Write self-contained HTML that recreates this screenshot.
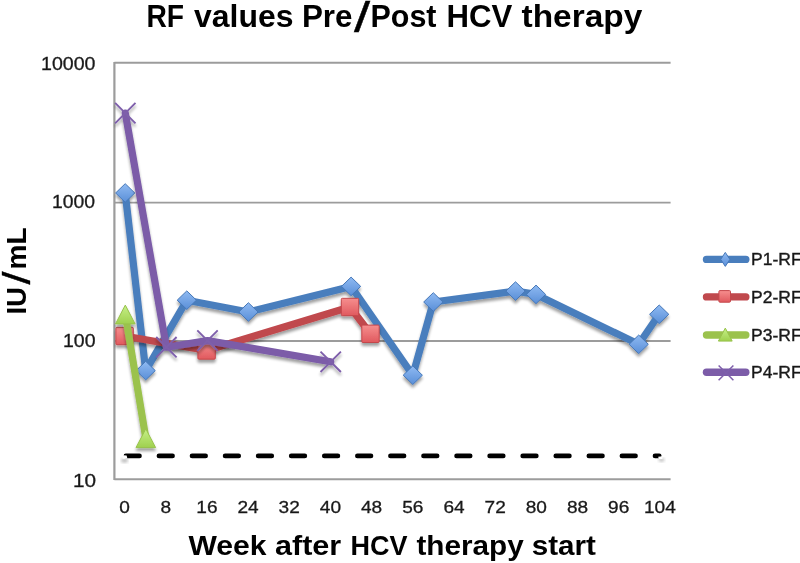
<!DOCTYPE html>
<html><head><meta charset="utf-8"><title>RF values Pre/Post HCV therapy</title>
<style>
html,body{margin:0;padding:0;background:#fff;}
body{width:800px;height:563px;overflow:hidden;font-family:"Liberation Sans",sans-serif;}
svg{display:block;}
text{font-family:"Liberation Sans",sans-serif;fill:#1a1a1a;stroke:#1a1a1a;stroke-width:0.3px;}
.b{font-weight:bold;fill:#000;stroke:none;}
.s{fill:#000;stroke:#000;stroke-width:0.35px;}
</style></head><body>
<svg width="800" height="563" viewBox="0 0 800 563">
<defs>
<linearGradient id="gb" x1="0" y1="0" x2="0" y2="1"><stop offset="0" stop-color="#8fbaf2"/><stop offset="1" stop-color="#5a8fd8"/></linearGradient>
<linearGradient id="gr" x1="0" y1="0" x2="0" y2="1"><stop offset="0" stop-color="#f68e8e"/><stop offset="1" stop-color="#e0595e"/></linearGradient>
<linearGradient id="gg" x1="0" y1="0" x2="0" y2="1"><stop offset="0" stop-color="#c6f088"/><stop offset="1" stop-color="#9fd04e"/></linearGradient>
<filter id="sh" x="-30%" y="-30%" width="160%" height="180%"><feGaussianBlur in="SourceAlpha" stdDeviation="1.6"/><feOffset dx="0" dy="2.5" result="o"/><feComponentTransfer><feFuncA type="linear" slope="0.38"/></feComponentTransfer><feMerge><feMergeNode/><feMergeNode in="SourceGraphic"/></feMerge></filter>
<filter id="soft"><feGaussianBlur stdDeviation="0.55"/></filter>
<filter id="b2"><feGaussianBlur stdDeviation="1.4"/></filter>
</defs>
<rect width="800" height="563" fill="#fff"/>
<g filter="url(#soft)">

<line x1="114.4" y1="62.8" x2="670.6" y2="62.8" stroke="#9c9c9c" stroke-width="1.9"/>
<line x1="114.4" y1="202.6" x2="670.6" y2="202.6" stroke="#9c9c9c" stroke-width="1.9"/>
<line x1="114.4" y1="341.0" x2="670.6" y2="341.0" stroke="#9c9c9c" stroke-width="1.9"/>
<line x1="114.4" y1="479.2" x2="670.6" y2="479.2" stroke="#9c9c9c" stroke-width="1.9"/>
<line x1="114.4" y1="61.9" x2="114.4" y2="480.09999999999997" stroke="#9c9c9c" stroke-width="2.2"/>
<g filter="url(#sh)">
<polyline points="125.2,193.0 145.7,370.6 186.8,300.2 248.4,312.0 351.1,286.4 412.8,375.2 433.3,302.0 515.5,291.1 536.0,294.4 638.7,344.3 659.2,314.3" fill="none" stroke="#4a7ebd" stroke-width="7.2" stroke-linejoin="round" stroke-linecap="round"/>
<path d="M125.2 183.7L134.8 193.0L125.2 202.3L115.6 193.0Z" fill="url(#gb)" stroke="#4577b8" stroke-width="1"/>
<path d="M145.7 361.3L155.3 370.6L145.7 379.9L136.1 370.6Z" fill="url(#gb)" stroke="#4577b8" stroke-width="1"/>
<path d="M186.8 290.9L196.4 300.2L186.8 309.5L177.2 300.2Z" fill="url(#gb)" stroke="#4577b8" stroke-width="1"/>
<path d="M248.4 302.7L258.0 312.0L248.4 321.3L238.8 312.0Z" fill="url(#gb)" stroke="#4577b8" stroke-width="1"/>
<path d="M351.1 277.1L360.7 286.4L351.1 295.7L341.5 286.4Z" fill="url(#gb)" stroke="#4577b8" stroke-width="1"/>
<path d="M412.8 365.9L422.4 375.2L412.8 384.5L403.2 375.2Z" fill="url(#gb)" stroke="#4577b8" stroke-width="1"/>
<path d="M433.3 292.7L442.9 302.0L433.3 311.3L423.7 302.0Z" fill="url(#gb)" stroke="#4577b8" stroke-width="1"/>
<path d="M515.5 281.8L525.1 291.1L515.5 300.4L505.9 291.1Z" fill="url(#gb)" stroke="#4577b8" stroke-width="1"/>
<path d="M536.0 285.1L545.6 294.4L536.0 303.7L526.4 294.4Z" fill="url(#gb)" stroke="#4577b8" stroke-width="1"/>
<path d="M638.7 335.0L648.3 344.3L638.7 353.6L629.1 344.3Z" fill="url(#gb)" stroke="#4577b8" stroke-width="1"/>
<path d="M659.2 305.0L668.8 314.3L659.2 323.6L649.6 314.3Z" fill="url(#gb)" stroke="#4577b8" stroke-width="1"/>
</g>
<g filter="url(#sh)">
<polyline points="124.6,336.0 206.6,350.5 350.0,307.0 370.5,333.8" fill="none" stroke="#c0484d" stroke-width="7.2" stroke-linejoin="round" stroke-linecap="round"/>
<rect x="115.9" y="327.3" width="17.4" height="17.4" rx="1" fill="url(#gr)" stroke="#c4474c" stroke-width="1"/>
<rect x="197.9" y="341.8" width="17.4" height="17.4" rx="1" fill="url(#gr)" stroke="#c4474c" stroke-width="1"/>
<rect x="341.3" y="298.3" width="17.4" height="17.4" rx="1" fill="url(#gr)" stroke="#c4474c" stroke-width="1"/>
<rect x="361.8" y="325.1" width="17.4" height="17.4" rx="1" fill="url(#gr)" stroke="#c4474c" stroke-width="1"/>
</g>
<g filter="url(#sh)">
<polyline points="125.3,314.5 145.8,438.2" fill="none" stroke="#9bc24e" stroke-width="7.2" stroke-linejoin="round" stroke-linecap="round"/>
<path d="M125.3 305.1L135.1 323.9L115.5 323.9Z" fill="url(#gg)" stroke="#98c24c" stroke-width="1"/>
<path d="M145.8 428.8L155.6 447.6L136.0 447.6Z" fill="url(#gg)" stroke="#98c24c" stroke-width="1"/>
</g>
<g filter="url(#sh)">
<polyline points="125.3,113.1 166.4,347.2 207.5,340.6 330.7,361.8" fill="none" stroke="#7b5ca8" stroke-width="7.2" stroke-linejoin="round" stroke-linecap="round"/>
<path d="M115.1 102.9L135.5 123.3M135.5 102.9L115.1 123.3" fill="none" stroke="#7e5fab" stroke-width="1.9"/>
<path d="M156.2 337.0L176.6 357.4M176.6 337.0L156.2 357.4" fill="none" stroke="#7e5fab" stroke-width="1.9"/>
<path d="M197.3 330.4L217.7 350.8M217.7 330.4L197.3 350.8" fill="none" stroke="#7e5fab" stroke-width="1.9"/>
<path d="M320.5 351.6L340.9 372.0M340.9 351.6L320.5 372.0" fill="none" stroke="#7e5fab" stroke-width="1.9"/>
</g>
<ellipse cx="124.5" cy="460.5" rx="3.5" ry="2.2" fill="#888" opacity="0.55" filter="url(#b2)"/>
<ellipse cx="661.5" cy="459.8" rx="3" ry="2" fill="#888" opacity="0.5" filter="url(#b2)"/>
<line x1="125.9" y1="455.9" x2="659.2" y2="455.9" stroke="#000" stroke-width="4.75" stroke-linecap="round" stroke-dasharray="13.55 19.52"/>
<path d="M122.5 455.2L126.6 455.5L127.4 458.6L122.5 458.8Z" fill="#fff"/>
<path d="M658.2 456.8L662.5 456.2L662.5 459L658.8 459Z" fill="#fff"/>
<line x1="706.5" y1="259.4" x2="745.8" y2="259.4" stroke="#4a7ebd" stroke-width="7.4" stroke-linecap="round"/>
<path d="M725.3 252.4L729.9 259.4L725.3 266.4L720.7 259.4Z" fill="url(#gb)" stroke="#4577b8" stroke-width="1"/>
<text x="751.0" y="265.3" font-size="15.7" textLength="50.6" style="stroke-width:0.35px" lengthAdjust="spacingAndGlyphs">P1-RF</text>
<line x1="706.5" y1="296.9" x2="745.8" y2="296.9" stroke="#c0484d" stroke-width="7.4" stroke-linecap="round"/>
<rect x="718.9" y="290.6" width="11.6" height="11.6" rx="1" fill="url(#gr)" stroke="#c4474c" stroke-width="1"/>
<text x="751.0" y="302.8" font-size="15.7" textLength="50.6" style="stroke-width:0.35px" lengthAdjust="spacingAndGlyphs">P2-RF</text>
<line x1="706.5" y1="335.0" x2="745.8" y2="335.0" stroke="#9bc24e" stroke-width="7.4" stroke-linecap="round"/>
<path d="M725.3 328.1L732.2 341.1L718.4 341.1Z" fill="url(#gg)" stroke="#98c24c" stroke-width="1"/>
<text x="751.0" y="340.9" font-size="15.7" textLength="50.6" style="stroke-width:0.35px" lengthAdjust="spacingAndGlyphs">P3-RF</text>
<line x1="706.5" y1="372.3" x2="745.8" y2="372.3" stroke="#7b5ca8" stroke-width="7.4" stroke-linecap="round"/>
<path d="M718.6 365.5L733.4 380.3M733.4 365.5L718.6 380.3" fill="none" stroke="#7e5fab" stroke-width="1.5"/>
<text x="751.0" y="378.2" font-size="15.7" textLength="50.6" style="stroke-width:0.35px" lengthAdjust="spacingAndGlyphs">P4-RF</text>
<text x="124.5" y="513.3" font-size="17.4" text-anchor="middle" textLength="10.6" lengthAdjust="spacingAndGlyphs">0</text>
<text x="165.7" y="513.3" font-size="17.4" text-anchor="middle" textLength="10.6" lengthAdjust="spacingAndGlyphs">8</text>
<text x="206.9" y="513.3" font-size="17.4" text-anchor="middle" textLength="21.2" lengthAdjust="spacingAndGlyphs">16</text>
<text x="248.1" y="513.3" font-size="17.4" text-anchor="middle" textLength="21.2" lengthAdjust="spacingAndGlyphs">24</text>
<text x="289.2" y="513.3" font-size="17.4" text-anchor="middle" textLength="21.2" lengthAdjust="spacingAndGlyphs">32</text>
<text x="330.4" y="513.3" font-size="17.4" text-anchor="middle" textLength="21.2" lengthAdjust="spacingAndGlyphs">40</text>
<text x="371.6" y="513.3" font-size="17.4" text-anchor="middle" textLength="21.2" lengthAdjust="spacingAndGlyphs">48</text>
<text x="412.8" y="513.3" font-size="17.4" text-anchor="middle" textLength="21.2" lengthAdjust="spacingAndGlyphs">56</text>
<text x="454.0" y="513.3" font-size="17.4" text-anchor="middle" textLength="21.2" lengthAdjust="spacingAndGlyphs">64</text>
<text x="495.2" y="513.3" font-size="17.4" text-anchor="middle" textLength="21.2" lengthAdjust="spacingAndGlyphs">72</text>
<text x="536.3" y="513.3" font-size="17.4" text-anchor="middle" textLength="21.2" lengthAdjust="spacingAndGlyphs">80</text>
<text x="577.5" y="513.3" font-size="17.4" text-anchor="middle" textLength="21.2" lengthAdjust="spacingAndGlyphs">88</text>
<text x="618.7" y="513.3" font-size="17.4" text-anchor="middle" textLength="21.2" lengthAdjust="spacingAndGlyphs">96</text>
<text x="659.9" y="513.3" font-size="17.4" text-anchor="middle" textLength="31.8" lengthAdjust="spacingAndGlyphs">104</text>
<text class="b" x="146.44" y="26.6" font-size="31.5" textLength="37.60" lengthAdjust="spacingAndGlyphs">RF</text>
<text class="b" x="194.00" y="26.6" font-size="31.5" textLength="99.52" lengthAdjust="spacingAndGlyphs">values</text>
<text class="b" x="301.93" y="26.6" font-size="31.5" textLength="50.60" lengthAdjust="spacingAndGlyphs">Pre</text>
<text class="s" x="353.94" y="31.8" font-size="43" textLength="16.14" lengthAdjust="spacingAndGlyphs">/</text>
<text class="b" x="370.49" y="26.6" font-size="31.5" textLength="66.01" lengthAdjust="spacingAndGlyphs">Post</text>
<text class="b" x="446.43" y="26.6" font-size="31.5" textLength="65.83" lengthAdjust="spacingAndGlyphs">HCV</text>
<text class="b" x="521.50" y="26.6" font-size="31.5" textLength="120.75" lengthAdjust="spacingAndGlyphs">therapy</text>
<text class="b" x="188.49" y="555.2" font-size="28" textLength="78.03" lengthAdjust="spacingAndGlyphs">Week</text>
<text class="b" x="274.98" y="555.2" font-size="28" textLength="66.28" lengthAdjust="spacingAndGlyphs">after</text>
<text class="b" x="350.49" y="555.2" font-size="28" textLength="57.03" lengthAdjust="spacingAndGlyphs">HCV</text>
<text class="b" x="416.49" y="555.2" font-size="28" textLength="107.26" lengthAdjust="spacingAndGlyphs">therapy</text>
<text class="b" x="531.74" y="555.2" font-size="28" textLength="64.26" lengthAdjust="spacingAndGlyphs">start</text>
<text class="b" transform="translate(25.75 314.61) rotate(-90)" font-size="28.5" textLength="27.71" lengthAdjust="spacingAndGlyphs">IU</text>
<text class="s" transform="translate(30.00 284.52) rotate(-90)" font-size="38" textLength="13.05" lengthAdjust="spacingAndGlyphs">/</text>
<text class="b" transform="translate(25.75 269.54) rotate(-90)" font-size="28.5" textLength="42.05" lengthAdjust="spacingAndGlyphs">mL</text>
<text x="40.97" y="69.8" font-size="17.6" textLength="54.55" lengthAdjust="spacingAndGlyphs">10000</text>
<text x="51.97" y="208.2" font-size="17.6" textLength="43.04" lengthAdjust="spacingAndGlyphs">1000</text>
<text x="62.99" y="346.8" font-size="17.6" textLength="32.51" lengthAdjust="spacingAndGlyphs">100</text>
<text x="72.95" y="487.1" font-size="17.6" textLength="23.07" lengthAdjust="spacingAndGlyphs">10</text>
</g></svg></body></html>
